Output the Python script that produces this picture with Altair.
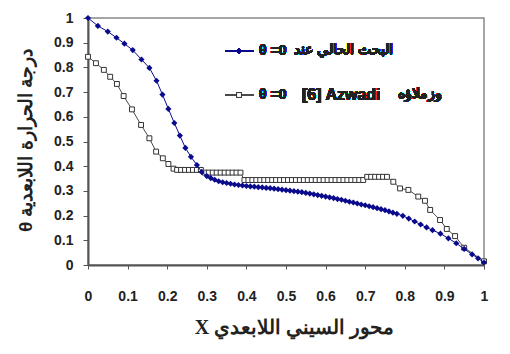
import altair as alt
import pandas as pd

# Present study, theta = 0
x_present = [0.0, 0.025, 0.05, 0.072, 0.092, 0.113, 0.135, 0.155, 0.173, 0.188,
             0.203, 0.218, 0.232, 0.246, 0.26, 0.275, 0.287,
             0.30, 0.31, 0.32, 0.33, 0.34, 0.35, 0.36, 0.37, 0.38, 0.39,
             0.40, 0.41, 0.42, 0.43, 0.44, 0.45, 0.46, 0.47, 0.48, 0.49,
             0.50, 0.51, 0.52, 0.53, 0.54, 0.55, 0.56, 0.57, 0.58, 0.59,
             0.60, 0.61, 0.62, 0.63, 0.64, 0.65, 0.66, 0.67, 0.68, 0.69,
             0.70, 0.71, 0.72, 0.73, 0.74, 0.75, 0.76, 0.77, 0.78,
             0.795, 0.81, 0.825, 0.84, 0.855, 0.87, 0.89, 0.91, 0.93, 0.95,
             0.97, 0.985, 1.0]
theta_present = [1.0, 0.968, 0.945, 0.92, 0.896, 0.87, 0.832, 0.798, 0.746, 0.69,
                 0.632, 0.575, 0.524, 0.474, 0.438, 0.405, 0.377,
                 0.36, 0.352, 0.345, 0.339, 0.335, 0.332, 0.329, 0.326, 0.324, 0.322,
                 0.32, 0.318, 0.317, 0.315, 0.314, 0.312, 0.311, 0.309, 0.307, 0.305,
                 0.303, 0.301, 0.299, 0.297, 0.295, 0.292, 0.289, 0.286, 0.283, 0.28,
                 0.277, 0.274, 0.271, 0.267, 0.264, 0.26, 0.256, 0.253, 0.249, 0.245,
                 0.242, 0.238, 0.234, 0.23, 0.226, 0.222, 0.217, 0.212, 0.207,
                 0.199, 0.188, 0.176, 0.164, 0.152, 0.141, 0.127, 0.108, 0.088, 0.065,
                 0.043, 0.027, 0.01]

# Azwadi and co-workers [6], theta = 0
x_azwadi = [0.0, 0.02, 0.04, 0.056, 0.073, 0.09, 0.111, 0.134, 0.155, 0.172,
            0.189, 0.203, 0.216,
            0.225, 0.235, 0.245, 0.255, 0.265, 0.275, 0.285,
            0.295, 0.305, 0.315, 0.325, 0.335, 0.345, 0.355, 0.365, 0.375, 0.385,
            0.395, 0.405, 0.415, 0.425, 0.435, 0.445, 0.455, 0.465, 0.475, 0.485,
            0.495, 0.505, 0.515, 0.525, 0.535, 0.545, 0.555, 0.565, 0.575, 0.585,
            0.595, 0.605, 0.615, 0.625, 0.635, 0.645, 0.655, 0.665, 0.675, 0.685,
            0.695, 0.705, 0.715, 0.725, 0.735, 0.745, 0.755,
            0.771, 0.788, 0.809, 0.834, 0.851, 0.864, 0.889, 0.906, 0.927, 0.95, 1.0]
theta_azwadi = [0.843, 0.817, 0.79, 0.762, 0.733, 0.684, 0.63, 0.567, 0.513, 0.459,
                0.432, 0.409, 0.39,
                0.385, 0.385, 0.385, 0.385, 0.385, 0.385, 0.385,
                0.374, 0.374, 0.374, 0.374, 0.374, 0.374, 0.374, 0.374, 0.374, 0.374,
                0.344, 0.344, 0.344, 0.344, 0.344, 0.344, 0.344, 0.344, 0.344, 0.344,
                0.344, 0.344, 0.344, 0.344, 0.344, 0.344, 0.344, 0.344, 0.344, 0.344,
                0.344, 0.344, 0.344, 0.344, 0.344, 0.344, 0.344, 0.344, 0.344, 0.344,
                0.344, 0.357, 0.357, 0.357, 0.357, 0.357, 0.357,
                0.337, 0.31, 0.304, 0.277, 0.26, 0.223, 0.182, 0.146, 0.117, 0.07, 0.015]

x_ticks = [0, 0.1, 0.2, 0.3, 0.4, 0.5, 0.6, 0.7, 0.8, 0.9, 1]
y_ticks = [0, 0.1, 0.2, 0.3, 0.4, 0.5, 0.6, 0.7, 0.8, 0.9, 1]

# Legend entries, split into their Latin and Arabic parts
legend_theta = ["θ =0", "θ =0"]
legend_ref = "[6] Azwadi"
legend_arabic = ["البحث الحالي عند", "وزملاؤه"]

x_title = "X محور السيني اللابعدي"
y_title = "θ درجة الحرارة اللابعدية"

BLUE = "#0a0a8c"
GRAY = "#4a4a4a"
SANS = "Liberation Sans"

present = pd.DataFrame({"X": x_present, "theta": theta_present})
azwadi = pd.DataFrame({"X": x_azwadi, "theta": theta_azwadi})

xs = alt.Scale(domain=[0, 1], nice=False, zero=False)
ys = alt.Scale(domain=[0, 1], nice=False, zero=False)

x_axis = alt.Axis(
    values=x_ticks, format=".1~f", title=x_title, labelOverlap=False,
    labelSeparation=0, labelBound=False,
    titleFont="Liberation Serif", titleFontSize=20, titleFontWeight="bold",
    titleColor="#222", titleX=206, titleY=62, titleBaseline="middle",
    labelFont=SANS, labelFontSize=14, labelFontWeight="bold", labelColor="#222",
    labelPadding=20, tickSize=4, tickColor="#555", domainColor="#555",
    domainWidth=2, grid=False, labelFlush=False)
y_axis = alt.Axis(
    values=y_ticks, format=".1~f", title=y_title, labelOverlap=False,
    labelSeparation=0, labelBound=False,
    titleFont=SANS, titleFontSize=19, titleFontWeight="bold", titleColor="#222",
    titleX=-63, titleY=122, titleBaseline="middle", titleAngle=270,
    labelFont=SANS, labelFontSize=14, labelFontWeight="bold", labelColor="#222",
    labelPadding=10, tickSize=5, tickColor="#555", domainColor="#555",
    domainWidth=2, grid=False, labelFlush=False)


def xy():
    return dict(x=alt.X("X:Q", scale=xs, axis=x_axis),
                y=alt.Y("theta:Q", scale=ys, axis=y_axis))


az_line = alt.Chart(azwadi).mark_line(color=GRAY, strokeWidth=1).encode(**xy())
az_pts = alt.Chart(azwadi).mark_point(shape="square", size=24, filled=True, fill="white",
                                      stroke="#333", strokeWidth=1, opacity=1).encode(**xy())
pr_line = alt.Chart(present).mark_line(color=BLUE, strokeWidth=1).encode(**xy())
pr_pts = alt.Chart(present).mark_point(shape="diamond", size=38, filled=True, color=BLUE,
                                       opacity=1).encode(**xy())

# Legend drawn inside the plot area
txt_style = dict(baseline="middle", font=SANS, fontWeight="bold", color="#222")
leg1_line = alt.Chart(present).mark_rule(color=BLUE, strokeWidth=1).encode(
    x=alt.value(137), x2=alt.value(166), y=alt.value(33))
leg1_pt = alt.Chart(present).mark_point(shape="diamond", size=38, filled=True, color=BLUE,
                                        opacity=1).encode(x=alt.value(151), y=alt.value(33))
leg1_th = alt.Chart(present).mark_text(text=legend_theta[0], align="left", fontSize=14,
                                       **txt_style).encode(x=alt.value(171), y=alt.value(33))
leg1_ar = alt.Chart(present).mark_text(text=legend_arabic[0], align="right", fontSize=14,
                                       **txt_style).encode(x=alt.value(305), y=alt.value(32))
leg2_line = alt.Chart(azwadi).mark_rule(color=GRAY, strokeWidth=1).encode(
    x=alt.value(137), x2=alt.value(166), y=alt.value(77))
leg2_pt = alt.Chart(azwadi).mark_point(shape="square", size=24, filled=True, fill="white",
                                       stroke="#333", strokeWidth=1, opacity=1).encode(
    x=alt.value(151), y=alt.value(77))
leg2_th = alt.Chart(azwadi).mark_text(text=legend_theta[1], align="left", fontSize=14,
                                      **txt_style).encode(x=alt.value(171), y=alt.value(77))
leg2_ref = alt.Chart(azwadi).mark_text(text=legend_ref, align="left", fontSize=16,
                                       **txt_style).encode(x=alt.value(214), y=alt.value(77))
leg2_ar = alt.Chart(azwadi).mark_text(text=legend_arabic[1], align="right", fontSize=14,
                                      **txt_style).encode(x=alt.value(354), y=alt.value(76))

chart = alt.layer(
    az_line, az_pts, pr_line, pr_pts,
    leg1_line, leg1_pt, leg1_th, leg1_ar,
    leg2_line, leg2_pt, leg2_th, leg2_ref, leg2_ar
).properties(
    width=396, height=247,
    autosize=alt.AutoSizeParams(type="none"),
    padding={"left": 88, "top": 18, "right": 26, "bottom": 89},
    background="white",
).configure_view(stroke="#888", strokeWidth=1.5)

chart.save("out.html", embed_options={"renderer": "svg", "actions": False})
